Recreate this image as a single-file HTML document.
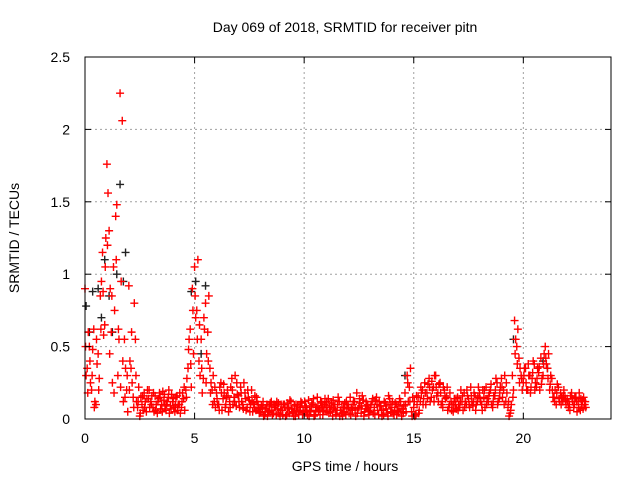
<!DOCTYPE html>
<html><head><meta charset="utf-8"><style>
body{margin:0;background:#fff}
svg{display:block;font-family:"Liberation Sans",sans-serif}
</style></head><body>
<svg id="chart" width="640" height="480" viewBox="0 0 640 480">
<text x="345" y="32" text-anchor="middle" font-size="14">Day 069 of 2018, SRMTID for receiver pitn</text>
<text x="345" y="471" text-anchor="middle" font-size="14">GPS time / hours</text>
<text transform="translate(19,238) rotate(-90)" text-anchor="middle" font-size="14">SRMTID / TECUs</text>
<g id="grid"></g><g id="marks"></g><g id="axes"></g>
</svg>
<script>
const xTicks=[0,5,10,15,20];
const yTicks=[0,0.5,1,1.5,2,2.5];
const yTickLabels=["0","0.5","1","1.5","2","2.5"];
const times=[0,0.1,0.2,0.3,0.4,0.5,0.6,0.7,0.8,0.9,1,1.1,1.2,1.3,1.4,1.5,1.6,1.7,1.8,1.9,2,2.1,2.2,2.3,2.4,2.5,2.6,2.7,2.8,2.9,3,3.1,3.2,3.3,3.4,3.5,3.6,3.7,3.8,3.9,4,4.1,4.2,4.3,4.4,4.5,4.6,4.7,4.8,4.9,5,5.1,5.2,5.3,5.4,5.5,5.6,5.7,5.8,5.9,6,6.1,6.2,6.3,6.4,6.5,6.6,6.7,6.8,6.9,7,7.1,7.2,7.3,7.4,7.5,7.6,7.7,7.8,7.9,8,8.1,8.2,8.3,8.4,8.5,8.6,8.7,8.8,8.9,9,9.1,9.2,9.3,9.4,9.5,9.6,9.7,9.8,9.9,10,10.1,10.2,10.3,10.4,10.5,10.6,10.7,10.8,10.9,11,11.1,11.2,11.3,11.4,11.5,11.6,11.7,11.8,11.9,12,12.1,12.2,12.3,12.4,12.5,12.6,12.7,12.8,12.9,13,13.1,13.2,13.3,13.4,13.5,13.6,13.7,13.8,13.9,14,14.1,14.2,14.3,14.4,14.5,14.6,14.7,14.8,14.9,15,15.1,15.2,15.3,15.4,15.5,15.6,15.7,15.8,15.9,16,16.1,16.2,16.3,16.4,16.5,16.6,16.7,16.8,16.9,17,17.1,17.2,17.3,17.4,17.5,17.6,17.7,17.8,17.9,18,18.1,18.2,18.3,18.4,18.5,18.6,18.7,18.8,18.9,19,19.1,19.2,19.3,19.4,19.5,19.6,19.7,19.8,19.9,20,20.1,20.2,20.3,20.4,20.5,20.6,20.7,20.8,20.9,21,21.1,21.2,21.3,21.4,21.5,21.6,21.7,21.8,21.9,22,22.1,22.2,22.3,22.4,22.5,22.6,22.7,22.8];
const redA=[0.90,0.35,0.50,0.20,0.62,0.10,0.45,0.85,1.15,0.65,
1.76,1.30,0.60,1.05,1.40,0.30,2.25,2.06,0.55,0.20,
0.92,0.35,0.15,0.55,0.08,0.02,0.10,0.18,0.05,0.14,
0.12,0.08,0.16,0.04,0.18,0.10,0.13,0.06,0.15,0.09,
0.12,0.05,0.16,0.10,0.08,0.14,0.20,0.35,0.62,0.90,
1.05,0.75,0.40,0.55,0.28,0.80,0.60,0.35,0.20,0.12,
0.18,0.10,0.25,0.14,0.08,0.20,0.12,0.28,0.15,0.09,
0.16,0.22,0.10,0.18,0.08,0.13,0.20,0.11,0.06,0.10,
0.05,0.08,0.03,0.10,0.06,0.12,0.04,0.09,0.07,0.02,
0.06,0.10,0.03,0.08,0.12,0.05,0.02,0.09,0.06,0.11,
0.04,0.08,0.13,0.05,0.10,0.03,0.15,0.07,0.11,0.06,
0.09,0.14,0.05,0.02,0.10,0.06,0.12,0.04,0.08,0.03,
0.10,0.15,0.06,0.12,0.18,0.08,0.04,0.13,0.07,0.10,
0.05,0.12,0.08,0.15,0.03,0.09,0.06,0.11,0.04,0.14,
0.08,0.03,0.10,0.05,0.12,0.07,0.18,0.30,0.22,0.05,
0.08,0.03,0.15,0.12,0.20,0.25,0.18,0.28,0.15,0.22,
0.30,0.18,0.25,0.12,0.20,0.15,0.08,0.12,0.05,0.10,
0.15,0.08,0.12,0.18,0.10,0.14,0.22,0.09,0.16,0.12,
0.18,0.10,0.15,0.22,0.12,0.20,0.08,0.16,0.25,0.14,
0.28,0.20,0.12,0.08,0.04,0.30,0.68,0.50,0.42,0.30,
0.25,0.35,0.20,0.30,0.28,0.38,0.22,0.32,0.42,0.30,
0.50,0.35,0.20,0.28,0.15,0.10,0.22,0.18,0.12,0.16,
0.14,0.10,0.18,0.08,0.15,0.12,0.06,0.13,0.10];
const redB=[0.30,0.60,0.25,0.48,0.12,0.38,0.28,0.95,0.58,1.25,
1.56,0.90,0.25,0.75,1.48,0.55,0.95,0.12,0.35,0.05,
0.40,0.25,0.80,0.12,0.22,0.15,0.06,0.12,0.20,0.08,
0.16,0.05,0.10,0.14,0.07,0.19,0.09,0.12,0.04,0.17,
0.08,0.15,0.10,0.04,0.18,0.06,0.28,0.55,0.22,0.45,
0.70,1.10,0.30,0.18,0.62,0.45,0.85,0.25,0.30,0.08,
0.10,0.22,0.06,0.18,0.15,0.05,0.22,0.10,0.30,0.17,
0.08,0.12,0.25,0.06,0.15,0.10,0.05,0.16,0.12,0.04,
0.09,0.02,0.07,0.05,0.11,0.03,0.08,0.12,0.04,0.10,
0.10,0.02,0.07,0.13,0.04,0.09,0.06,0.03,0.12,0.05,
0.09,0.03,0.06,0.11,0.02,0.08,0.05,0.12,0.03,0.14,
0.05,0.08,0.11,0.07,0.03,0.15,0.06,0.02,0.11,0.07,
0.04,0.08,0.12,0.02,0.07,0.11,0.16,0.05,0.09,0.03,
0.10,0.04,0.13,0.06,0.09,0.02,0.12,0.07,0.16,0.05,
0.04,0.11,0.06,0.14,0.02,0.09,0.05,0.12,0.35,0.15,
0.02,0.10,0.06,0.18,0.14,0.10,0.24,0.12,0.20,0.30,
0.16,0.24,0.10,0.22,0.14,0.06,0.18,0.10,0.14,0.07,
0.10,0.20,0.06,0.12,0.16,0.08,0.12,0.18,0.10,0.22,
0.12,0.20,0.08,0.14,0.18,0.10,0.16,0.28,0.12,0.22,
0.15,0.30,0.18,0.02,0.10,0.20,0.55,0.62,0.35,0.20,
0.35,0.20,0.30,0.22,0.40,0.25,0.35,0.20,0.28,0.45,
0.38,0.45,0.30,0.15,0.20,0.24,0.12,0.15,0.20,0.10,
0.08,0.16,0.12,0.15,0.05,0.18,0.10,0.15,0.08];
const redC=[0.50,0.18,0.40,0.30,0.08,0.55,0.20,0.62,0.88,1.05,
1.20,0.45,0.85,0.18,1.10,0.62,0.22,0.40,0.15,0.30,
0.20,0.60,0.08,0.30,0.12,0.04,0.16,0.08,0.14,0.20,
0.10,0.18,0.06,0.12,0.15,0.05,0.17,0.10,0.20,0.07,
0.14,0.09,0.06,0.18,0.12,0.22,0.15,0.48,0.38,0.75,
0.85,0.55,0.65,0.35,0.70,0.25,0.40,0.18,0.10,0.22,
0.14,0.06,0.18,0.24,0.10,0.16,0.08,0.20,0.12,0.25,
0.12,0.18,0.07,0.14,0.20,0.05,0.12,0.08,0.15,0.07,
0.07,0.12,0.05,0.02,0.09,0.06,0.10,0.03,0.11,0.06,
0.03,0.08,0.11,0.04,0.07,0.02,0.10,0.05,0.08,0.03,
0.12,0.06,0.02,0.09,0.14,0.06,0.09,0.03,0.08,0.10,
0.12,0.04,0.09,0.13,0.06,0.10,0.02,0.08,0.05,0.12,
0.08,0.03,0.10,0.07,0.04,0.14,0.09,0.02,0.12,0.06,
0.08,0.14,0.03,0.10,0.12,0.06,0.03,0.09,0.02,0.10,
0.12,0.06,0.03,0.09,0.07,0.04,0.10,0.25,0.12,0.02,
0.12,0.16,0.04,0.22,0.10,0.18,0.14,0.22,0.26,0.12,
0.22,0.12,0.18,0.08,0.16,0.22,0.10,0.06,0.10,0.14,
0.06,0.12,0.16,0.08,0.20,0.10,0.16,0.12,0.06,0.15,
0.14,0.06,0.20,0.10,0.16,0.24,0.12,0.20,0.10,0.18,
0.22,0.10,0.25,0.12,0.06,0.15,0.45,0.38,0.25,0.28,
0.30,0.25,0.38,0.18,0.32,0.20,0.28,0.36,0.24,0.38,
0.42,0.28,0.24,0.20,0.12,0.18,0.14,0.10,0.16,0.13,
0.12,0.06,0.14,0.10,0.12,0.08,0.14,0.07,0.12];
const blackT=[0.05,0.2,0.35,0.6,0.75,0.9,1.1,1.25,1.45,1.6,1.75,1.85,4.85,5.05,5.3,5.5,14.6,19.55,20.9,21.1];
const blackV=[0.78,0.6,0.88,0.9,0.7,1.1,0.85,0.6,1.0,1.62,0.95,1.15,0.88,0.95,0.45,0.92,0.3,0.55,0.4,0.35];

const NS="http://www.w3.org/2000/svg";
const L=85,R=611,T=57,B=419,XMAX=24,YMAX=2.5;
function xs(v){return L+v/XMAX*(R-L);}
function ys(v){return B-v/YMAX*(B-T);}
function mk(tag,attrs,parent){const e=document.createElementNS(NS,tag);for(const k in attrs)e.setAttribute(k,attrs[k]);parent.appendChild(e);return e;}
const grid=document.getElementById('grid'),marks=document.getElementById('marks'),axes=document.getElementById('axes');
xTicks.forEach(function(t,i){
  const x=xs(t);
  if(t>0){const g=mk('line',{x1:x,x2:x,y1:T,y2:B,stroke:'#a0a0a0','stroke-dasharray':'2,3'},grid);
  
  }
  mk('line',{x1:x,x2:x,y1:B,y2:B-6,stroke:'#000'},axes);
  mk('line',{x1:x,x2:x,y1:T,y2:T+6,stroke:'#000'},axes);
  const lb=mk('text',{x:x,y:B+24,'text-anchor':'middle','font-size':'14'},axes);
  lb.textContent=String(t);
  
  
});
yTicks.forEach(function(t,i){
  const y=ys(t);
  if(t>0&&t<YMAX){const g=mk('line',{x1:L,x2:R,y1:y,y2:y,stroke:'#a0a0a0','stroke-dasharray':'2,3'},grid);
  
  }
  mk('line',{x1:L,x2:L+6,y1:y,y2:y,stroke:'#000'},axes);
  mk('line',{x1:R,x2:R-6,y1:y,y2:y,stroke:'#000'},axes);
  const lb=mk('text',{x:L-15,y:y+5,'text-anchor':'end','font-size':'14'},axes);
  lb.textContent=yTickLabels[i];
  
  
});
const frame=mk('rect',{x:L,y:T,width:R-L,height:B-T,fill:'none',stroke:'#000'},axes);


function plus(t,v,color,name){
  const x=xs(t),y=ys(v),s=4;
  const p=mk('path',{d:'M'+(x-s)+' '+y+'H'+(x+s)+'M'+x+' '+(y-s)+'V'+(y+s),stroke:color,'stroke-width':'1.4',fill:'none'},marks);
  
  
}
blackT.forEach(function(t,i){plus(t,blackV[i],'#222','black-point');});
times.forEach(function(t,i){plus(t,redA[i],'#ff0000','red-point');});
times.forEach(function(t,i){plus(t+0.05,redB[i],'#ff0000','red-point');});
times.forEach(function(t,i){plus(t+0.025,redC[i],'#ff0000','red-point');});
</script>
</body></html>
